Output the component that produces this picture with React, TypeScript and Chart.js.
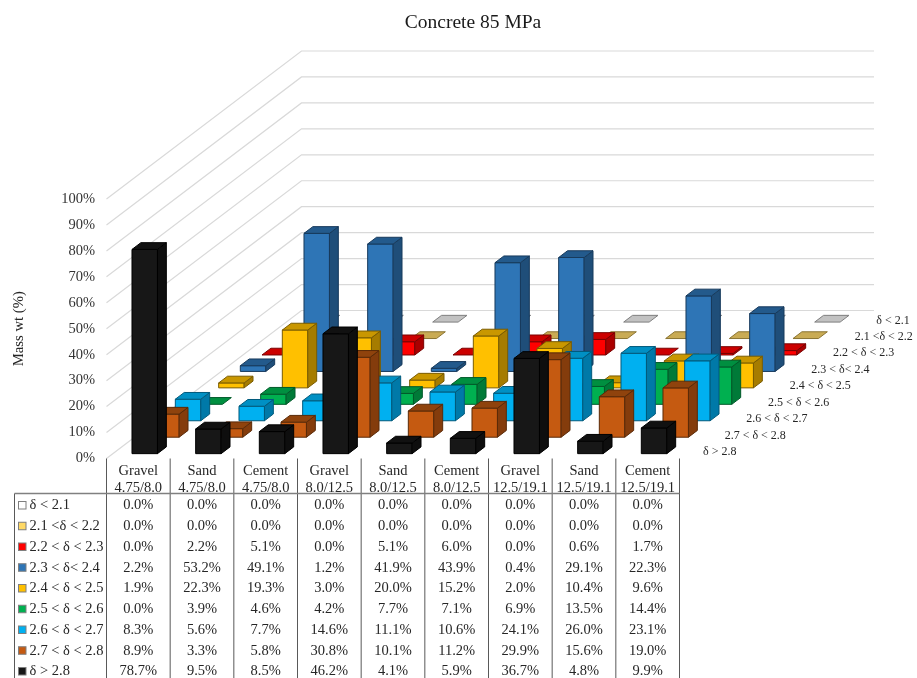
import React, { useEffect, useRef } from "react";
import { Chart, registerables } from "chart.js";

Chart.register(...registerables);

const categoryNames = ["Gravel", "Sand", "Cement", "Gravel", "Sand", "Cement", "Gravel", "Sand", "Cement"];
const sizeRanges = ["4.75/8.0", "4.75/8.0", "4.75/8.0", "8.0/12.5", "8.0/12.5", "8.0/12.5", "12.5/19.1", "12.5/19.1", "12.5/19.1"];

const seriesNames = ["δ < 2.1", "2.1 <δ < 2.2", "2.2 < δ < 2.3", "2.3 < δ< 2.4", "2.4 < δ < 2.5", "2.5 < δ < 2.6", "2.6 < δ < 2.7", "2.7 < δ < 2.8", "δ > 2.8"];

const below21 = [0, 0, 0, 0, 0, 0, 0, 0, 0];
const from21to22 = [0, 0, 0, 0, 0, 0, 0, 0, 0];
const from22to23 = [0, 2.2, 5.1, 0, 5.1, 6.0, 0, 0.6, 1.7];
const from23to24 = [2.2, 53.2, 49.1, 1.2, 41.9, 43.9, 0.4, 29.1, 22.3];
const from24to25 = [1.9, 22.3, 19.3, 3.0, 20.0, 15.2, 2.0, 10.4, 9.6];
const from25to26 = [0, 3.9, 4.6, 4.2, 7.7, 7.1, 6.9, 13.5, 14.4];
const from26to27 = [8.3, 5.6, 7.7, 14.6, 11.1, 10.6, 24.1, 26.0, 23.1];
const from27to28 = [8.9, 3.3, 5.8, 30.8, 10.1, 11.2, 29.9, 15.6, 19.0];
const above28 = [78.7, 9.5, 8.5, 46.2, 4.1, 5.9, 36.7, 4.8, 9.9];
const seriesValues = [below21, from21to22, from22to23, from23to24, from24to25, from25to26, from26to27, from27to28, above28];

const frontColors = ["#ffffff", "#ffd966", "#ff0000", "#2e75b6", "#ffc000", "#00b050", "#00b0f0", "#c55a11", "#171717"];
const topColors = ["#c2c2c2", "#c9ab54", "#cc0000", "#235a8c", "#c99700", "#008f40", "#0090c4", "#8f430d", "#111111"];
const sideColors = ["#a6a6a6", "#a88c40", "#aa0000", "#1f4e79", "#a67c00", "#007a38", "#0079a8", "#843c0c", "#0e0e0e"];
const edgeColors = ["#7f7f7f", "#8a7433", "#7a0000", "#173a5c", "#7a5c00", "#005a2a", "#005a7c", "#5a2a08", "#000000"];

const SERIF = "'Liberation Serif', 'Times New Roman', serif";
const DEPTH_X = 195;
const DEPTH_Y = 148;
const SLOTS = seriesNames.length;
const BAR_DEPTH = 0.41;
const FRONT_GAP = 0.295;

function poly(ctx: CanvasRenderingContext2D, pts: number[][], fill: string, edge: string) {
  ctx.beginPath();
  pts.forEach((p, i) => (i ? ctx.lineTo(p[0], p[1]) : ctx.moveTo(p[0], p[1])));
  ctx.closePath();
  ctx.fillStyle = fill;
  ctx.fill();
  ctx.strokeStyle = edge;
  ctx.lineWidth = 1;
  ctx.stroke();
}

const scene3d = {
  id: "scene3d",
  beforeDatasetsDraw(chart: any) {
    const ctx: CanvasRenderingContext2D = chart.ctx;
    const { x: xs, y: ys } = chart.scales;
    const area = chart.chartArea;
    const slotX = DEPTH_X / SLOTS;
    const slotY = DEPTH_Y / SLOTS;

    ctx.save();
    // walls
    ctx.strokeStyle = "#d9d9d9";
    ctx.lineWidth = 1.2;
    ys.ticks.forEach((t: any) => {
      const py = ys.getPixelForValue(t.value);
      ctx.beginPath();
      ctx.moveTo(area.left, py);
      ctx.lineTo(area.left + DEPTH_X, py - DEPTH_Y);
      ctx.lineTo(area.right + DEPTH_X - 0.5, py - DEPTH_Y);
      ctx.stroke();
    });

    // bars, back to front
    seriesValues.forEach((_, s) => {
      const depthIndex = SLOTS - 1 - s;
      const offX = (depthIndex + FRONT_GAP) * slotX;
      const offY = (depthIndex + FRONT_GAP) * slotY;
      const dx = BAR_DEPTH * slotX;
      const dy = BAR_DEPTH * slotY;
      chart.getDatasetMeta(s).data.forEach((el: any) => {
        const l = el.x - el.width / 2 + offX;
        const r = el.x + el.width / 2 + offX;
        const b = el.base - offY;
        const t = el.y - offY;
        if (b - t > 0.01) {
          poly(ctx, [[l, t], [r, t], [r, b], [l, b]], frontColors[s], edgeColors[s]);
          poly(ctx, [[r, t], [r + dx, t - dy], [r + dx, b - dy], [r, b]], sideColors[s], edgeColors[s]);
        }
        poly(ctx, [[l, t], [l + dx, t - dy], [r + dx, t - dy], [r, t]], topColors[s], edgeColors[s]);
      });
    });

    // depth axis labels
    ctx.font = `12px ${SERIF}`;
    ctx.fillStyle = "#262626";
    ctx.textAlign = "left";
    ctx.textBaseline = "middle";
    seriesNames.forEach((name, s) => {
      const d = SLOTS - 1 - s;
      ctx.fillText(name, area.right + 23.5 + d * slotX, area.bottom - 6.5 - d * slotY);
    });

    // title
    ctx.font = `19.5px ${SERIF}`;
    ctx.fillStyle = "#1a1a1a";
    ctx.textAlign = "center";
    ctx.fillText("Concrete 85 MPa", 473, 23);

    // data table
    const tableLeft = 14.5;
    const headerLine = 493.5;
    const rowStart = 505.5;
    const rowStep = 20.75;
    const bottom = 678;
    const halfCat = (xs.getPixelForValue(1) - xs.getPixelForValue(0)) / 2;

    ctx.strokeStyle = "#595959";
    ctx.lineWidth = 1;
    ctx.beginPath();
    ctx.moveTo(tableLeft, headerLine);
    ctx.lineTo(tableLeft, bottom);
    categoryNames.forEach((_, i) => {
      const px = xs.getPixelForValue(i) - halfCat;
      ctx.moveTo(px, area.bottom);
      ctx.lineTo(px, bottom);
    });
    ctx.moveTo(area.right, area.bottom);
    ctx.lineTo(area.right, bottom);
    ctx.stroke();
    ctx.strokeStyle = "#808080";
    ctx.lineWidth = 1.5;
    ctx.beginPath();
    ctx.moveTo(tableLeft, headerLine);
    ctx.lineTo(area.right, headerLine);
    ctx.stroke();

    ctx.font = `14.5px ${SERIF}`;
    ctx.fillStyle = "#262626";
    seriesNames.forEach((name, s) => {
      const py = rowStart + s * rowStep;
      ctx.fillStyle = frontColors[s];
      ctx.strokeStyle = "#7f7f7f";
      ctx.lineWidth = 1;
      ctx.fillRect(18.5, py - 4, 7.5, 7.5);
      ctx.strokeRect(18.5, py - 4, 7.5, 7.5);
      ctx.fillStyle = "#262626";
      ctx.textAlign = "left";
      ctx.fillText(name, 29.5, py);
      ctx.textAlign = "center";
      seriesValues[s].forEach((v, c) => {
        ctx.fillText(`${v.toFixed(1)}%`, xs.getPixelForValue(c), py);
      });
    });
    ctx.restore();
    return false;
  },
};

export default function App() {
  const ref = useRef<HTMLCanvasElement>(null);
  useEffect(() => {
    document.body.style.margin = "0";
    document.body.style.background = "#ffffff";
    const chart = new Chart(ref.current as HTMLCanvasElement, {
      type: "bar",
      data: {
        labels: categoryNames.map((n, i) => [n, sizeRanges[i]]),
        datasets: seriesNames.map((name, s) => ({
          label: name,
          data: seriesValues[s],
          backgroundColor: frontColors[s],
          grouped: false,
          categoryPercentage: 1,
          barPercentage: 0.4,
        })),
      },
      options: {
        responsive: false,
        animation: false,
        layout: { padding: { top: 199, right: 237.5, left: 0, bottom: 0 } },
        plugins: { legend: { display: false }, tooltip: { enabled: false } },
        scales: {
          x: {
            grid: { display: false, drawTicks: false },
            border: { display: false },
            afterFit: (s: any) => { s.height = 219.5; },
            ticks: {
              autoSkip: false,
              maxRotation: 0,
              minRotation: 0,
              padding: 4,
              color: "#262626",
              font: { family: SERIF, size: 14.5, lineHeight: 1.17 },
            },
          },
          y: {
            min: 0,
            max: 100,
            grid: { display: false, drawTicks: false },
            border: { display: false },
            afterFit: (s: any) => { s.width = 106.5; },
            ticks: {
              stepSize: 10,
              padding: 11.5,
              color: "#333333",
              font: { family: SERIF, size: 14.5 },
              callback: (v: any) => `${v}%`,
            },
            title: {
              display: true,
              text: "Mass wt (%)",
              color: "#262626",
              font: { family: SERIF, size: 14.7 },
              padding: { top: 10, bottom: 0 },
            },
          },
        },
      },
      plugins: [scene3d],
    } as any);
    return () => chart.destroy();
  }, []);
  return (
    <div style={{ position: "absolute", left: 0, top: 0, width: 917, height: 678, overflow: "hidden", background: "#fff" }}>
      <canvas ref={ref} width={917} height={678} style={{ display: "block" }} />
    </div>
  );
}
